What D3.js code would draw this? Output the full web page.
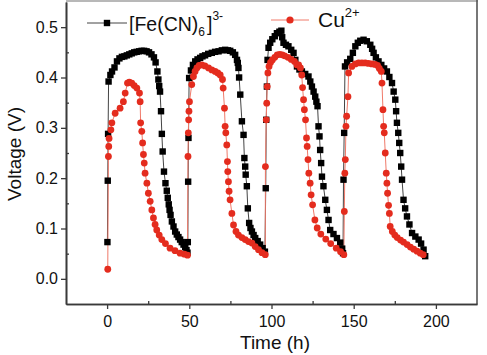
<!DOCTYPE html>
<html><head><meta charset="utf-8">
<script src="https://cdn.jsdelivr.net/npm/d3@7"></script>
<style>
html,body{margin:0;padding:0;background:#fff;}
svg{display:block;font-family:"Liberation Sans",Arial,sans-serif;}
</style></head>
<body><svg id="c" width="487" height="355"></svg>
<script>
// ---- data ----
const xMajorTicks = [0, 50, 100, 150, 200];
const xMinorTicks = [25, 75, 125, 175];
const yMajorTicks = [0.0, 0.1, 0.2, 0.3, 0.4, 0.5];
const yMinorTicks = [0.05, 0.15, 0.25, 0.35, 0.45];
const seriesNames = ["[Fe(CN)6]3-", "Cu2+"];

const feTime = [
0.2,0.4,0.6,0.9,2,3,4.5,6,7.5,9,10.5,12,13.5,15,16.5,18,19.5,21,22.5,24,25.5,27,28.5,29.5,30.6,31.2,31.7,32.2,32.8,33.3,33.8,34.6,35.5,36.3,36.9,37.5,38,38.6,39.4,40.4,41.4,42.4,43.4,44.4,45.4,46.5,47.5,48.3,48.9,
49.1,49.3,49.5,49.9,51,52.2,53.6,55,56.6,58,59.6,61.5,63.7,65.7,67.8,69.8,71.8,73.5,74.9,76.5,77.9,79,79.5,79.9,80.3,81,82,83,83.5,84,84.3,85,85.6,86.4,87.2,88.1,89.1,90.1,91.6,93.1,94.6,96,
96.5,96.8,97.2,97.6,98.2,99.2,100.5,102,103.3,104.8,106,106.5,107.3,108.8,110.3,112,113.4,114.5,115.5,117,118.5,120.5,122.5,123.6,124.6,125.6,126.6,127.3,128,128.6,129.2,129.6,130.2,130.7,131.6,132.7,133.7,134.7,135.7,137.7,139.8,141.8,143,143.5,
143.8,144.2,144.7,146,147.9,149.5,151,152.5,154,156,158,160.1,161.2,162.1,163.5,165.1,166.8,168.5,170.2,171.7,173.3,174.3,175.3,175.8,176.3,177.1,177.7,178.3,178.9,179.4,180.3,181.3,182.4,183.9,185.5,187.5,189.5,191,192.5,193.5
];
const feVoltage = [
0.073,0.195,0.288,0.392,0.405,0.412,0.42,0.432,0.438,0.441,0.442,0.444,0.446,0.448,0.45,0.451,0.452,0.453,0.453,0.452,0.45,0.446,0.44,0.43,0.412,0.396,0.383,0.372,0.333,0.288,0.253,0.213,0.19,0.175,0.161,0.148,0.137,0.127,0.114,0.104,0.094,0.088,0.083,0.078,0.073,0.068,0.063,0.057,0.052,
0.073,0.193,0.28,0.399,0.414,0.425,0.432,0.436,0.439,0.442,0.444,0.447,0.449,0.451,0.452,0.454,0.455,0.454,0.453,0.45,0.445,0.435,0.429,0.419,0.4,0.366,0.313,0.286,0.24,0.223,0.207,0.184,0.14,0.111,0.101,0.094,0.087,0.081,0.075,0.068,0.061,0.054,
0.18,0.316,0.382,0.435,0.459,0.469,0.476,0.482,0.488,0.491,0.493,0.48,0.469,0.465,0.462,0.455,0.449,0.435,0.422,0.416,0.412,0.407,0.402,0.392,0.382,0.372,0.362,0.352,0.343,0.303,0.283,0.256,0.23,0.203,0.184,0.157,0.137,0.117,0.097,0.089,0.081,0.072,0.06,0.051,
0.197,0.29,0.422,0.43,0.437,0.449,0.462,0.469,0.473,0.475,0.472,0.465,0.457,0.449,0.44,0.432,0.425,0.418,0.412,0.401,0.389,0.372,0.356,0.333,0.31,0.29,0.27,0.25,0.223,0.197,0.157,0.14,0.124,0.108,0.091,0.084,0.078,0.07,0.058,0.045
];

const cuTime = [
0.4,0.8,1.0,1.2,2.3,2.9,4.9,7.9,9.9,11,12.4,13.5,15,16.5,18.1,19.7,20.1,20.4,21.1,21.6,22.1,22.6,23.1,24.2,25.1,26.2,27.2,28.2,29.2,30.2,31.7,33.3,35.5,38.3,41.3,44.4,47,48.9,
49.2,49.4,49.6,49.8,50.1,51.5,52.5,53.5,54.6,56,57.6,59.5,61.7,63.7,65.7,67.3,68.8,70.2,70.6,71.4,71.8,72.2,72.8,73.2,73.4,73.8,74.2,74.8,75.9,76.9,78.4,79.9,82,84,86,88.1,90.1,92.1,94.2,96.2,
96.3,96.8,97.1,97.4,97.8,98.5,99.4,100.5,102,103.5,105,106.5,108,110,112,114,115.5,116.5,117.6,118.4,118.9,119.5,120,120.7,121.3,121.7,122.2,122.7,123.5,124.1,125,126.4,127.8,130,133,136,139.4,142,144.0,
144.3,144.6,144.9,145.3,145.7,146.5,146.9,148.9,151,153,155,157,159,161,163,164.5,165.6,166.8,167.2,167.8,168.2,168.6,169.2,169.8,170.2,170.6,171.2,171.7,172.2,173.5,175,176.5,178.5,180.3,182.5,184.5,186.5,188.5,190.5,192.3
];
const cuVoltage = [
0.019,0.243,0.263,0.279,0.296,0.31,0.329,0.339,0.352,0.369,0.389,0.391,0.389,0.384,0.379,0.369,0.352,0.31,0.293,0.27,0.247,0.23,0.21,0.19,0.17,0.154,0.137,0.121,0.108,0.097,0.087,0.078,0.07,0.061,0.056,0.051,0.049,0.047,
0.243,0.29,0.316,0.333,0.352,0.386,0.402,0.412,0.419,0.424,0.425,0.423,0.419,0.415,0.412,0.409,0.405,0.396,0.379,0.339,0.303,0.29,0.266,0.233,0.213,0.193,0.174,0.157,0.13,0.107,0.094,0.087,0.082,0.078,0.074,0.071,0.064,0.058,0.052,0.048,
0.223,0.316,0.349,0.382,0.409,0.422,0.43,0.435,0.44,0.445,0.446,0.445,0.443,0.44,0.436,0.432,0.425,0.425,0.419,0.405,0.38,0.356,0.336,0.316,0.28,0.263,0.237,0.21,0.19,0.167,0.147,0.117,0.101,0.089,0.079,0.07,0.061,0.054,0.048,
0.134,0.21,0.237,0.303,0.323,0.362,0.409,0.422,0.427,0.429,0.429,0.429,0.428,0.427,0.426,0.424,0.418,0.412,0.389,0.336,0.303,0.29,0.25,0.21,0.19,0.17,0.146,0.13,0.104,0.094,0.087,0.082,0.077,0.073,0.068,0.063,0.059,0.055,0.051,0.048
];

// ---- layout ----
const svg = d3.select("#c");
const L = 66, R = 477, T = 2, B = 304;
const x = d3.scaleLinear().domain([-25, 225]).range([L, R]);
const y = d3.scaleLinear().domain([-0.05, 0.55]).range([B, T]);
const axisColor = "#3a3a3a";
const black = "#000000", red = "#e42c1e";

// frame top/right
svg.append("line").attr("x1", L).attr("x2", R + 1).attr("y1", 1).attr("y2", 1)
  .attr("stroke", "#b8b8b8").attr("stroke-width", 2);
svg.append("line").attr("x1", R).attr("x2", R).attr("y1", 0).attr("y2", B)
  .attr("stroke", "#555").attr("stroke-width", 1.6);

// axes
const fmtY = d3.format(".1f");
const gx = svg.append("g").attr("transform", `translate(0,${B})`)
  .call(d3.axisBottom(x).tickValues(xMajorTicks).tickSizeInner(5).tickSizeOuter(0).tickPadding(4).tickFormat(d3.format("d")));
const gxm = svg.append("g").attr("transform", `translate(0,${B})`)
  .call(d3.axisBottom(x).tickValues(xMinorTicks).tickSizeInner(-3).tickSizeOuter(0).tickFormat(""));
const gy = svg.append("g").attr("transform", `translate(${L},0)`)
  .call(d3.axisLeft(y).tickValues(yMajorTicks).tickSizeInner(5).tickSizeOuter(0).tickPadding(3).tickFormat(fmtY));
const gym = svg.append("g").attr("transform", `translate(${L},0)`)
  .call(d3.axisLeft(y).tickValues(yMinorTicks).tickSizeInner(-3).tickSizeOuter(0).tickFormat(""));
[gx, gxm, gy, gym].forEach(g => {
  g.select(".domain").attr("stroke", axisColor).attr("stroke-width", 1.6);
  g.selectAll(".tick line").attr("stroke", axisColor).attr("stroke-width", 1.3);
  g.selectAll("text").attr("fill", "#111").style("font-size", "16px").style("font-family", "Liberation Sans, Arial, sans-serif");
});
gx.selectAll("text").attr("dy", "0.85em");

// axis titles
svg.append("text").attr("x", 275).attr("y", 349).attr("text-anchor", "middle")
  .style("font-size", "19px").attr("fill", "#111").text("Time (h)");
svg.append("text").attr("transform", "translate(21,154) rotate(-90)").attr("text-anchor", "middle")
  .style("font-size", "19px").attr("fill", "#111").text("Voltage (V)");

// series
const feData = feTime.map((t, i) => [t, feVoltage[i]]);
const cuData = cuTime.map((t, i) => [t, cuVoltage[i]]);
const line = d3.line().x(d => x(d[0])).y(d => y(d[1]));

const gPlot = svg.append("g");
gPlot.append("path").datum(feData).attr("d", line).attr("fill", "none").attr("stroke", "#444").attr("stroke-width", 1);
gPlot.append("path").datum(cuData).attr("d", line).attr("fill", "none").attr("stroke", "#f07a6a").attr("stroke-width", 1);
const sq = 6.4;
gPlot.selectAll("rect.fe").data(feData).enter().append("rect").attr("class", "fe")
  .attr("x", d => x(d[0]) - sq / 2).attr("y", d => y(d[1]) - sq / 2)
  .attr("width", sq).attr("height", sq).attr("fill", black);
gPlot.selectAll("circle.cu").data(cuData).enter().append("circle").attr("class", "cu")
  .attr("cx", d => x(d[0])).attr("cy", d => y(d[1])).attr("r", 3.4).attr("fill", red);

// legend
const lg = svg.append("g");
lg.append("line").attr("x1", 87).attr("x2", 127).attr("y1", 23).attr("y2", 23).attr("stroke", "#444").attr("stroke-width", 1);
lg.append("rect").attr("x", 107 - sq / 2).attr("y", 23 - sq / 2).attr("width", sq).attr("height", sq).attr("fill", black);
const t1 = lg.append("text").attr("x", 129).attr("y", 31).attr("fill", "#111").style("font-size", "19.5px");
t1.append("tspan").text("[Fe(CN)");
t1.append("tspan").attr("dy", 5).style("font-size", "12px").text("6");
t1.append("tspan").attr("dy", -5).attr("dx", 2).text("]");
t1.append("tspan").attr("dy", -11).style("font-size", "12px").text("3-");

lg.append("line").attr("x1", 271).attr("x2", 309).attr("y1", 20).attr("y2", 20).attr("stroke", "#f07a6a").attr("stroke-width", 1);
lg.append("circle").attr("cx", 290).attr("cy", 20).attr("r", 3.6).attr("fill", red);
const t2 = lg.append("text").attr("x", 318).attr("y", 27).attr("fill", "#111").style("font-size", "21px");
t2.append("tspan").text("Cu");
t2.append("tspan").attr("dy", -10).style("font-size", "13px").text("2+");
</script></body></html>
